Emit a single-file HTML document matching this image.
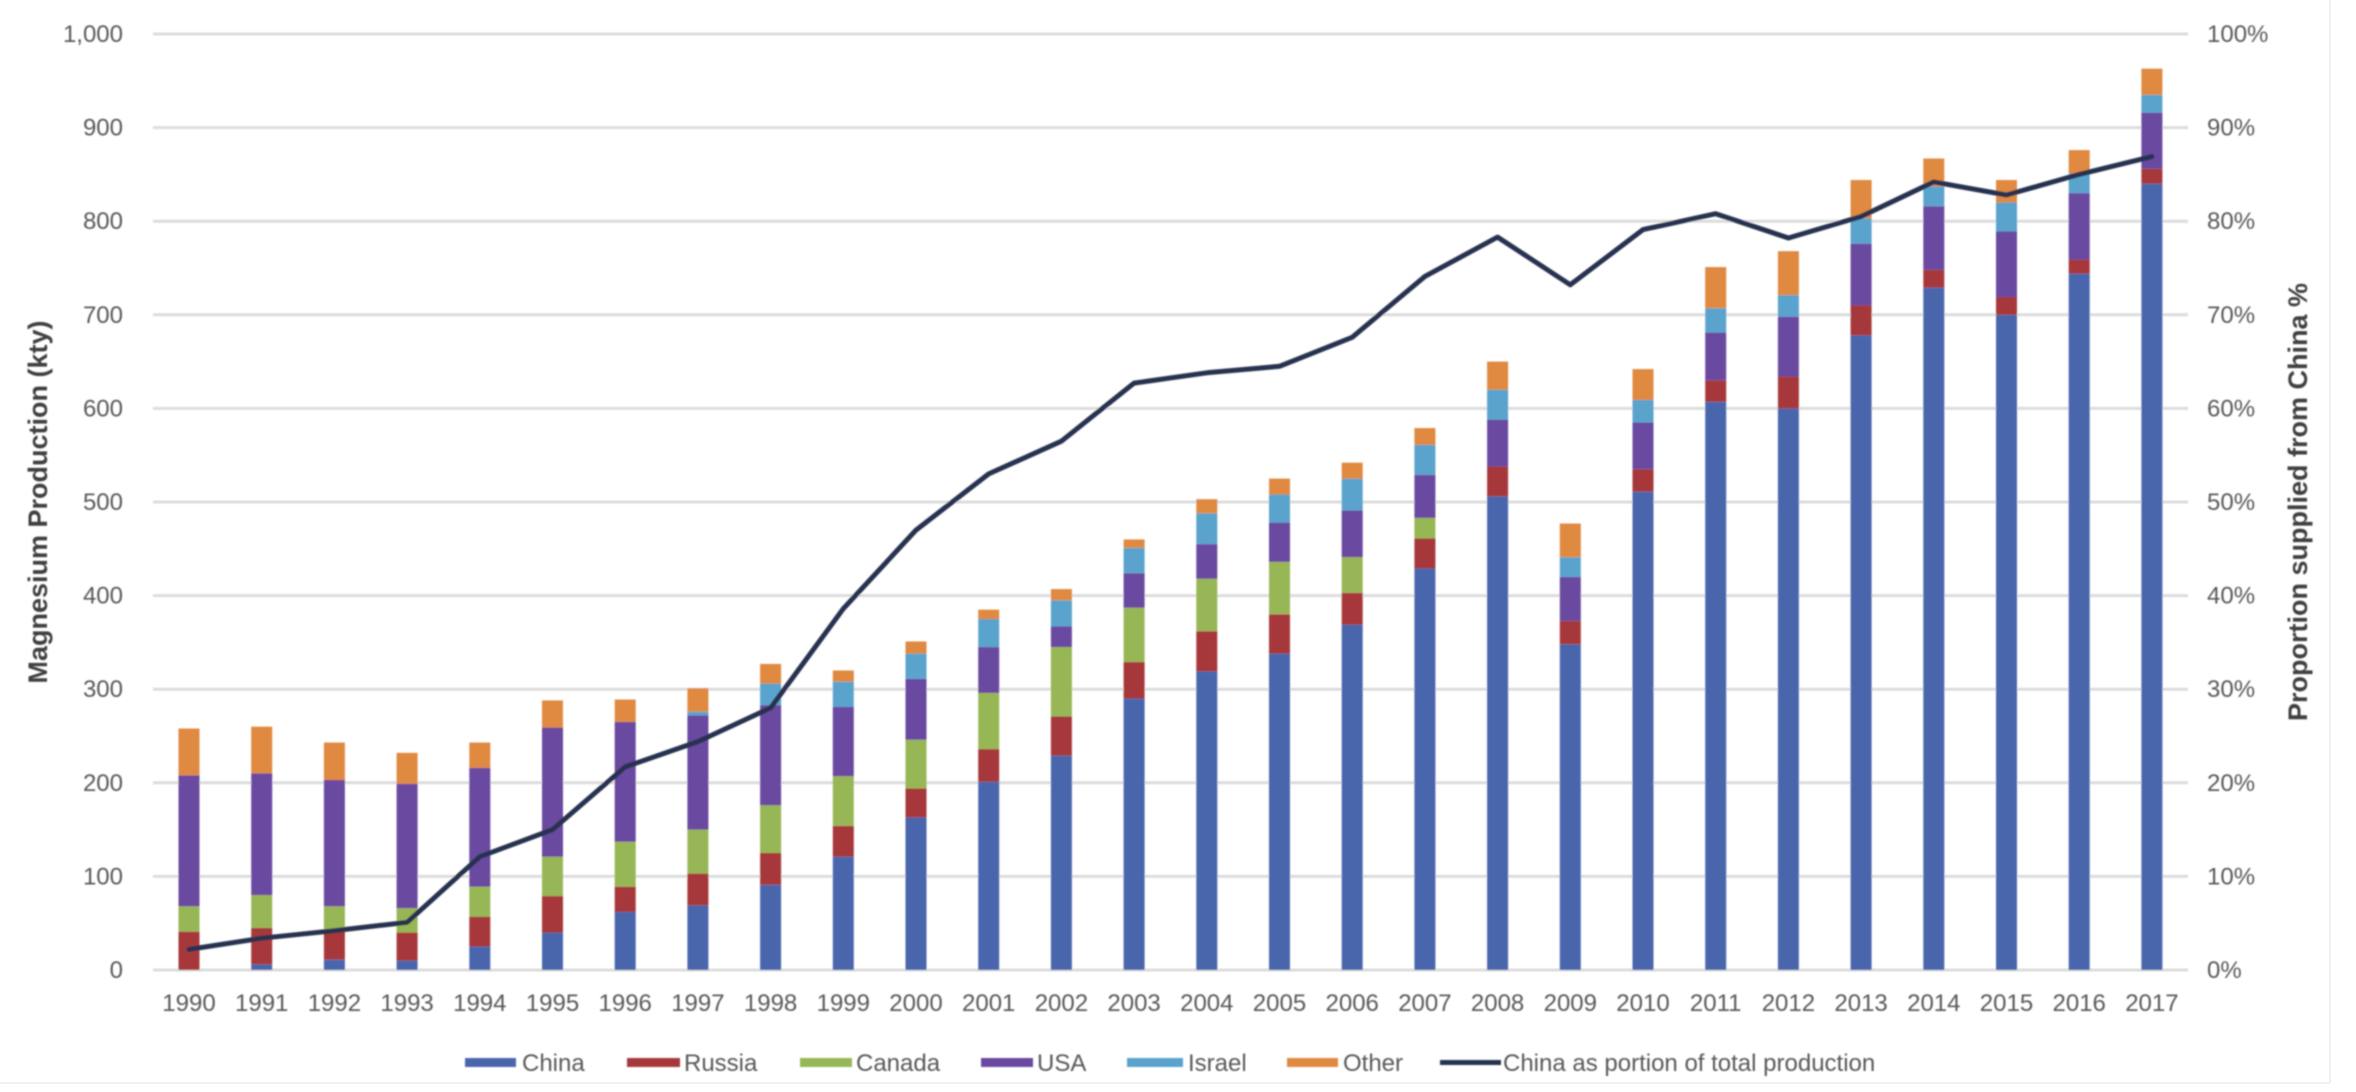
<!DOCTYPE html>
<html>
<head>
<meta charset="utf-8">
<style>
html,body{margin:0;padding:0;background:#ffffff;}
svg{display:block;}
.t{font-family:"Liberation Sans",Arial,sans-serif;font-size:24px;fill:#595959;}
.ti{font-family:"Liberation Sans",Arial,sans-serif;font-size:27px;font-weight:bold;fill:#404040;}
.c{fill:#4a66ad}.r{fill:#a6383a}.g{fill:#97b654}.u{fill:#6a48a0}.i{fill:#5aa3cc}.o{fill:#e0893f}
</style>
</head>
<body>
<svg width="2356" height="1092" viewBox="0 0 2356 1092" xmlns="http://www.w3.org/2000/svg">
<rect x="0" y="0" width="2356" height="1092" fill="#ffffff"/>
<line x1="0" y1="1083" x2="2330" y2="1083" stroke="#f0f0f0" stroke-width="2"/>
<line x1="2330" y1="0" x2="2330" y2="1083" stroke="#f0f0f0" stroke-width="2"/>
<g filter="url(#bl)">
<defs><filter id="bl" x="-1%" y="-1%" width="102%" height="102%"><feGaussianBlur stdDeviation="0.7"/></filter></defs>
<!-- gridlines -->
<g stroke="#dcdcdc" stroke-width="3">
<line x1="153" y1="34" x2="2188" y2="34"/>
<line x1="153" y1="127.6" x2="2188" y2="127.6"/>
<line x1="153" y1="221.2" x2="2188" y2="221.2"/>
<line x1="153" y1="314.8" x2="2188" y2="314.8"/>
<line x1="153" y1="408.4" x2="2188" y2="408.4"/>
<line x1="153" y1="502" x2="2188" y2="502"/>
<line x1="153" y1="595.6" x2="2188" y2="595.6"/>
<line x1="153" y1="689.2" x2="2188" y2="689.2"/>
<line x1="153" y1="782.8" x2="2188" y2="782.8"/>
<line x1="153" y1="876.4" x2="2188" y2="876.4"/>
<line x1="153" y1="970" x2="2188" y2="970"/>
</g>
<!-- left ticks -->
<g class="t" text-anchor="end">
<text x="123" y="42">1,000</text>
<text x="123" y="135.6">900</text>
<text x="123" y="229.2">800</text>
<text x="123" y="322.8">700</text>
<text x="123" y="416.4">600</text>
<text x="123" y="510">500</text>
<text x="123" y="603.6">400</text>
<text x="123" y="697.2">300</text>
<text x="123" y="790.8">200</text>
<text x="123" y="884.4">100</text>
<text x="123" y="978">0</text>
</g>
<!-- right ticks -->
<g class="t" text-anchor="start">
<text x="2207" y="42">100%</text>
<text x="2207" y="135.6">90%</text>
<text x="2207" y="229.2">80%</text>
<text x="2207" y="322.8">70%</text>
<text x="2207" y="416.4">60%</text>
<text x="2207" y="510">50%</text>
<text x="2207" y="603.6">40%</text>
<text x="2207" y="697.2">30%</text>
<text x="2207" y="790.8">20%</text>
<text x="2207" y="884.4">10%</text>
<text x="2207" y="978">0%</text>
</g>
<!-- axis titles -->
<text class="ti" x="38" y="502" text-anchor="middle" dominant-baseline="central" transform="rotate(-90 38 502)">Magnesium Production (kty)</text>
<text class="ti" x="2298" y="502" text-anchor="middle" dominant-baseline="central" transform="rotate(-90 2298 502)">Proportion supplied from China %</text>
<!-- x labels -->
<g class="t" text-anchor="middle">
<text x="189" y="1011">1990</text>
<text x="261.7" y="1011">1991</text>
<text x="334.4" y="1011">1992</text>
<text x="407.1" y="1011">1993</text>
<text x="479.8" y="1011">1994</text>
<text x="552.5" y="1011">1995</text>
<text x="625.2" y="1011">1996</text>
<text x="697.9" y="1011">1997</text>
<text x="770.6" y="1011">1998</text>
<text x="843.3" y="1011">1999</text>
<text x="916" y="1011">2000</text>
<text x="988.7" y="1011">2001</text>
<text x="1061.4" y="1011">2002</text>
<text x="1134.1" y="1011">2003</text>
<text x="1206.8" y="1011">2004</text>
<text x="1279.5" y="1011">2005</text>
<text x="1352.2" y="1011">2006</text>
<text x="1424.9" y="1011">2007</text>
<text x="1497.6" y="1011">2008</text>
<text x="1570.3" y="1011">2009</text>
<text x="1643" y="1011">2010</text>
<text x="1715.7" y="1011">2011</text>
<text x="1788.4" y="1011">2012</text>
<text x="1861.1" y="1011">2013</text>
<text x="1933.8" y="1011">2014</text>
<text x="2006.5" y="1011">2015</text>
<text x="2079.2" y="1011">2016</text>
<text x="2151.9" y="1011">2017</text>
</g>
<!-- bars (data units, flipped) -->
<g transform="translate(0,970) scale(1,-0.936)">
<!-- 1990 -->
<rect class="r" x="178.5" y="0" width="21" height="41"/>
<rect class="g" x="178.5" y="41" width="21" height="27"/>
<rect class="u" x="178.5" y="68" width="21" height="140"/>
<rect class="o" x="178.5" y="208" width="21" height="50"/>
<!-- 1991 -->
<rect class="c" x="251.2" y="0" width="21" height="6"/>
<rect class="r" x="251.2" y="6" width="21" height="39"/>
<rect class="g" x="251.2" y="45" width="21" height="35"/>
<rect class="u" x="251.2" y="80" width="21" height="130"/>
<rect class="o" x="251.2" y="210" width="21" height="50"/>
<!-- 1992 -->
<rect class="c" x="323.9" y="0" width="21" height="11"/>
<rect class="r" x="323.9" y="11" width="21" height="31"/>
<rect class="g" x="323.9" y="42" width="21" height="26"/>
<rect class="u" x="323.9" y="68" width="21" height="135"/>
<rect class="o" x="323.9" y="203" width="21" height="40"/>
<!-- 1993 -->
<rect class="c" x="396.6" y="0" width="21" height="10"/>
<rect class="r" x="396.6" y="10" width="21" height="30"/>
<rect class="g" x="396.6" y="40" width="21" height="26"/>
<rect class="u" x="396.6" y="66" width="21" height="133"/>
<rect class="o" x="396.6" y="199" width="21" height="33"/>
<!-- 1994 -->
<rect class="c" x="469.3" y="0" width="21" height="25"/>
<rect class="r" x="469.3" y="25" width="21" height="32"/>
<rect class="g" x="469.3" y="57" width="21" height="32"/>
<rect class="u" x="469.3" y="89" width="21" height="127"/>
<rect class="o" x="469.3" y="216" width="21" height="27"/>
<!-- 1995 -->
<rect class="c" x="542" y="0" width="21" height="40"/>
<rect class="r" x="542" y="40" width="21" height="39"/>
<rect class="g" x="542" y="79" width="21" height="42"/>
<rect class="u" x="542" y="121" width="21" height="138"/>
<rect class="o" x="542" y="259" width="21" height="29"/>
<!-- 1996 -->
<rect class="c" x="614.7" y="0" width="21" height="62"/>
<rect class="r" x="614.7" y="62" width="21" height="27"/>
<rect class="g" x="614.7" y="89" width="21" height="48"/>
<rect class="u" x="614.7" y="137" width="21" height="128"/>
<rect class="o" x="614.7" y="265" width="21" height="24"/>
<!-- 1997 -->
<rect class="c" x="687.4" y="0" width="21" height="69"/>
<rect class="r" x="687.4" y="69" width="21" height="34"/>
<rect class="g" x="687.4" y="103" width="21" height="47"/>
<rect class="u" x="687.4" y="150" width="21" height="122"/>
<rect class="i" x="687.4" y="272" width="21" height="4"/>
<rect class="o" x="687.4" y="276" width="21" height="25"/>
<!-- 1998 -->
<rect class="c" x="760.1" y="0" width="21" height="91"/>
<rect class="r" x="760.1" y="91" width="21" height="34"/>
<rect class="g" x="760.1" y="125" width="21" height="51"/>
<rect class="u" x="760.1" y="176" width="21" height="107"/>
<rect class="i" x="760.1" y="283" width="21" height="23"/>
<rect class="o" x="760.1" y="306" width="21" height="21"/>
<!-- 1999 -->
<rect class="c" x="832.8" y="0" width="21" height="121"/>
<rect class="r" x="832.8" y="121" width="21" height="33"/>
<rect class="g" x="832.8" y="154" width="21" height="53"/>
<rect class="u" x="832.8" y="207" width="21" height="74"/>
<rect class="i" x="832.8" y="281" width="21" height="27"/>
<rect class="o" x="832.8" y="308" width="21" height="12"/>
<!-- 2000 -->
<rect class="c" x="905.5" y="0" width="21" height="163"/>
<rect class="r" x="905.5" y="163" width="21" height="31"/>
<rect class="g" x="905.5" y="194" width="21" height="52"/>
<rect class="u" x="905.5" y="246" width="21" height="65"/>
<rect class="i" x="905.5" y="311" width="21" height="27"/>
<rect class="o" x="905.5" y="338" width="21" height="13"/>
<!-- 2001 -->
<rect class="c" x="978.2" y="0" width="21" height="201"/>
<rect class="r" x="978.2" y="201" width="21" height="35"/>
<rect class="g" x="978.2" y="236" width="21" height="60"/>
<rect class="u" x="978.2" y="296" width="21" height="49"/>
<rect class="i" x="978.2" y="345" width="21" height="30"/>
<rect class="o" x="978.2" y="375" width="21" height="10"/>
<!-- 2002 -->
<rect class="c" x="1050.9" y="0" width="21" height="229"/>
<rect class="r" x="1050.9" y="229" width="21" height="42"/>
<rect class="g" x="1050.9" y="271" width="21" height="74"/>
<rect class="u" x="1050.9" y="345" width="21" height="22"/>
<rect class="i" x="1050.9" y="367" width="21" height="28"/>
<rect class="o" x="1050.9" y="395" width="21" height="12"/>
<!-- 2003 -->
<rect class="c" x="1123.6" y="0" width="21" height="290"/>
<rect class="r" x="1123.6" y="290" width="21" height="39"/>
<rect class="g" x="1123.6" y="329" width="21" height="58"/>
<rect class="u" x="1123.6" y="387" width="21" height="37"/>
<rect class="i" x="1123.6" y="424" width="21" height="27"/>
<rect class="o" x="1123.6" y="451" width="21" height="9"/>
<!-- 2004 -->
<rect class="c" x="1196.3" y="0" width="21" height="319"/>
<rect class="r" x="1196.3" y="319" width="21" height="43"/>
<rect class="g" x="1196.3" y="362" width="21" height="56"/>
<rect class="u" x="1196.3" y="418" width="21" height="37"/>
<rect class="i" x="1196.3" y="455" width="21" height="33"/>
<rect class="o" x="1196.3" y="488" width="21" height="15"/>
<!-- 2005 -->
<rect class="c" x="1269" y="0" width="21" height="338"/>
<rect class="r" x="1269" y="338" width="21" height="42"/>
<rect class="g" x="1269" y="380" width="21" height="56"/>
<rect class="u" x="1269" y="436" width="21" height="42"/>
<rect class="i" x="1269" y="478" width="21" height="30"/>
<rect class="o" x="1269" y="508" width="21" height="17"/>
<!-- 2006 -->
<rect class="c" x="1341.7" y="0" width="21" height="369"/>
<rect class="r" x="1341.7" y="369" width="21" height="34"/>
<rect class="g" x="1341.7" y="403" width="21" height="38"/>
<rect class="u" x="1341.7" y="441" width="21" height="50"/>
<rect class="i" x="1341.7" y="491" width="21" height="34"/>
<rect class="o" x="1341.7" y="525" width="21" height="17"/>
<!-- 2007 -->
<rect class="c" x="1414.4" y="0" width="21" height="429"/>
<rect class="r" x="1414.4" y="429" width="21" height="32"/>
<rect class="g" x="1414.4" y="461" width="21" height="22"/>
<rect class="u" x="1414.4" y="483" width="21" height="46"/>
<rect class="i" x="1414.4" y="529" width="21" height="32"/>
<rect class="o" x="1414.4" y="561" width="21" height="18"/>
<!-- 2008 -->
<rect class="c" x="1487.1" y="0" width="21" height="506"/>
<rect class="r" x="1487.1" y="506" width="21" height="32"/>
<rect class="u" x="1487.1" y="538" width="21" height="50"/>
<rect class="i" x="1487.1" y="588" width="21" height="32"/>
<rect class="o" x="1487.1" y="620" width="21" height="30"/>
<!-- 2009 -->
<rect class="c" x="1559.8" y="0" width="21" height="348"/>
<rect class="r" x="1559.8" y="348" width="21" height="25"/>
<rect class="u" x="1559.8" y="373" width="21" height="47"/>
<rect class="i" x="1559.8" y="420" width="21" height="21"/>
<rect class="o" x="1559.8" y="441" width="21" height="36"/>
<!-- 2010 -->
<rect class="c" x="1632.5" y="0" width="21" height="511"/>
<rect class="r" x="1632.5" y="511" width="21" height="24"/>
<rect class="u" x="1632.5" y="535" width="21" height="50"/>
<rect class="i" x="1632.5" y="585" width="21" height="24"/>
<rect class="o" x="1632.5" y="609" width="21" height="33"/>
<!-- 2011 -->
<rect class="c" x="1705.2" y="0" width="21" height="607"/>
<rect class="r" x="1705.2" y="607" width="21" height="23"/>
<rect class="u" x="1705.2" y="630" width="21" height="51"/>
<rect class="i" x="1705.2" y="681" width="21" height="26"/>
<rect class="o" x="1705.2" y="707" width="21" height="44"/>
<!-- 2012 -->
<rect class="c" x="1777.9" y="0" width="21" height="600"/>
<rect class="r" x="1777.9" y="600" width="21" height="34"/>
<rect class="u" x="1777.9" y="634" width="21" height="64"/>
<rect class="i" x="1777.9" y="698" width="21" height="23"/>
<rect class="o" x="1777.9" y="721" width="21" height="47"/>
<!-- 2013 -->
<rect class="c" x="1850.6" y="0" width="21" height="678"/>
<rect class="r" x="1850.6" y="678" width="21" height="32"/>
<rect class="u" x="1850.6" y="710" width="21" height="66"/>
<rect class="i" x="1850.6" y="776" width="21" height="27"/>
<rect class="o" x="1850.6" y="803" width="21" height="41"/>
<!-- 2014 -->
<rect class="c" x="1923.3" y="0" width="21" height="729"/>
<rect class="r" x="1923.3" y="729" width="21" height="19"/>
<rect class="u" x="1923.3" y="748" width="21" height="68"/>
<rect class="i" x="1923.3" y="816" width="21" height="21"/>
<rect class="o" x="1923.3" y="837" width="21" height="30"/>
<!-- 2015 -->
<rect class="c" x="1996" y="0" width="21" height="700"/>
<rect class="r" x="1996" y="700" width="21" height="19"/>
<rect class="u" x="1996" y="719" width="21" height="70"/>
<rect class="i" x="1996" y="789" width="21" height="31"/>
<rect class="o" x="1996" y="820" width="21" height="24"/>
<!-- 2016 -->
<rect class="c" x="2068.7" y="0" width="21" height="744"/>
<rect class="r" x="2068.7" y="744" width="21" height="15"/>
<rect class="u" x="2068.7" y="759" width="21" height="71"/>
<rect class="i" x="2068.7" y="830" width="21" height="21"/>
<rect class="o" x="2068.7" y="851" width="21" height="25"/>
<!-- 2017 -->
<rect class="c" x="2141.4" y="0" width="21" height="840"/>
<rect class="r" x="2141.4" y="840" width="21" height="16"/>
<rect class="u" x="2141.4" y="856" width="21" height="60"/>
<rect class="i" x="2141.4" y="916" width="21" height="19"/>
<rect class="o" x="2141.4" y="935" width="21" height="28"/>
</g>
<!-- China share line -->
<polyline fill="none" stroke="#283350" stroke-width="5" stroke-linejoin="round" stroke-linecap="round"
points="189,949.4 261.7,938.2 334.4,930.7 407.1,922.3 479.8,856.7 552.5,829.6 625.2,766.9 697.9,741.6 770.6,707.9 843.3,608.7 916,530.1 988.7,473.9 1061.4,441.2 1134.1,383.1 1206.8,372.8 1279.5,366.3 1352.2,337.3 1424.9,276.4 1497.6,237.1 1570.3,284.8 1643,229.6 1715.7,213.7 1788.4,238 1861.1,216.5 1933.8,181.9 2006.5,195 2079.2,174.4 2151.9,156.6"/>
<!-- legend -->
<rect class="c" x="465" y="1058" width="51" height="9"/>
<text class="t" x="522" y="1071">China</text>
<rect class="r" x="627" y="1058" width="53" height="9"/>
<text class="t" x="684" y="1071">Russia</text>
<rect class="g" x="800" y="1058" width="52" height="9"/>
<text class="t" x="856" y="1071">Canada</text>
<rect class="u" x="981" y="1058" width="52" height="9"/>
<text class="t" x="1037" y="1071">USA</text>
<rect class="i" x="1127" y="1058" width="56" height="9"/>
<text class="t" x="1188" y="1071">Israel</text>
<rect class="o" x="1287" y="1058" width="51" height="9"/>
<text class="t" x="1343" y="1071">Other</text>
<rect x="1440" y="1060" width="61" height="5" fill="#283350"/>
<text class="t" x="1503" y="1071">China as portion of total production</text>
</g>
</svg>
</body>
</html>
